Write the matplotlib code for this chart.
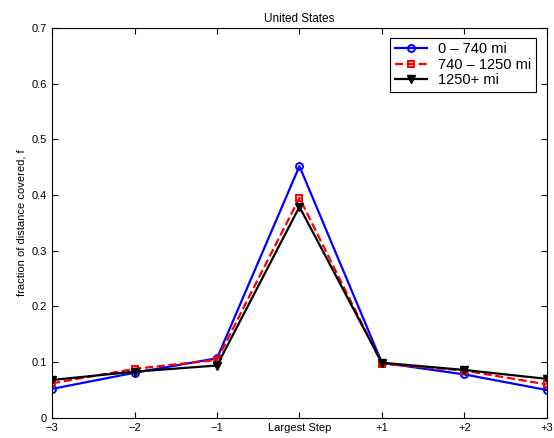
import matplotlib
matplotlib.use("Agg")
import matplotlib.pyplot as plt

plt.rcParams['font.family'] = ['Liberation Sans', 'DejaVu Sans']

# Data
steps = ["\u22123", "\u22122", "\u22121", "Largest Step", "+1", "+2", "+3"]
x = list(range(-3, 4))
short = [0.052, 0.081, 0.107, 0.452, 0.099, 0.078, 0.050]
mid = [0.062, 0.088, 0.104, 0.395, 0.097, 0.085, 0.060]
long_ = [0.068, 0.083, 0.094, 0.379, 0.099, 0.086, 0.070]
labels = ["0 \u2013 740 mi", "740 \u2013 1250 mi", "1250+ mi"]

fig = plt.figure(figsize=(5.54, 4.38), dpi=100)
ax = fig.add_axes([0.094, 0.046, 0.893, 0.89])

ax.plot(x, short, color="blue", lw=1.6, marker="o", ms=5, mfc="none", mec="blue", mew=1.4, label=labels[0])
ax.plot(x, mid, color="red", lw=1.6, ls="--", marker="s", ms=5, mfc="none", mec="red", mew=1.4, label=labels[1])
ax.plot(x, long_, color="black", lw=1.6, marker="v", ms=6, mfc="black", mec="black", label=labels[2])

ax.set_xlim(-3, 3)
ax.set_ylim(0, 0.7)
ax.set_xticks(x)
ax.set_xticklabels(steps)
ax.set_yticks([0, 0.1, 0.2, 0.3, 0.4, 0.5, 0.6, 0.7])
ax.set_yticklabels(["0", "0.1", "0.2", "0.3", "0.4", "0.5", "0.6", "0.7"])
ax.tick_params(direction="in", top=True, right=True, labelsize=8, length=4)
ax.set_ylabel("fraction of distance covered, f", fontsize=8)
ax.set_title("United States", fontsize=8.5, pad=4)

leg = ax.legend(loc="upper right", fontsize=10.5, fancybox=False, edgecolor="black",
                framealpha=1, borderpad=0.3, handlelength=2.2, labelspacing=0.1,
                bbox_to_anchor=(0.993, 0.993))
leg.get_frame().set_linewidth(0.8)

fig.savefig("out.png", dpi=100)
